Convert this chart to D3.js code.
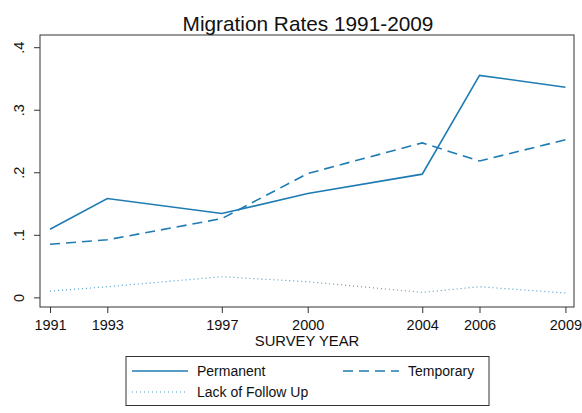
<!DOCTYPE html>
<html><head><meta charset="utf-8">
<script src="https://cdn.jsdelivr.net/npm/d3@7"></script>
<style>body{margin:0;background:#fff}svg{display:block}text{font-family:"Liberation Sans",Arial,sans-serif;fill:#111}</style>
</head><body><svg id="c" width="582" height="413"></svg>
<script>
const years = [1991, 1993, 1997, 2000, 2004, 2006, 2009];
const permanent = [0.109, 0.158, 0.134, 0.166, 0.197, 0.355, 0.336];
const temporary = [0.085, 0.092, 0.126, 0.198, 0.247, 0.218, 0.252];
const lackFollowUp = [0.010, 0.017, 0.033, 0.025, 0.008, 0.017, 0.007];
const yTicks = [0, 0.1, 0.2, 0.3, 0.4];
const yTickLabels = ["0", ".1", ".2", ".3", ".4"];
const seriesNames = ["Permanent", "Temporary", "Lack of Follow Up"];

const svg = d3.select("#c");
const L = 40, R = 574, T = 35, B = 307;
const x = d3.scaleLinear().domain([1990.65, 2009.3]).range([L, R]);
const y = d3.scaleLinear().domain([-0.0154, 0.4195]).range([B, T]);
const col = "#1f7bb3";

svg.append("rect").attr("x", L).attr("y", T).attr("width", R - L).attr("height", B - T)
  .attr("fill", "none").attr("stroke", "#333").attr("stroke-width", 1);

const xa = svg.append("g").attr("transform", `translate(0,${B})`)
  .call(d3.axisBottom(x).tickValues(years).tickFormat(d3.format("d")).tickSize(6).tickSizeOuter(0).tickPadding(7));
xa.select(".domain").remove();
xa.selectAll("line").attr("stroke", "#333");
xa.selectAll("text").style("font-size", "14.5px").attr("fill", "#111");

const ya = svg.append("g").attr("transform", `translate(${L},0)`)
  .call(d3.axisLeft(y).tickValues(yTicks).tickFormat((d, i) => yTickLabels[i]).tickSize(6).tickSizeOuter(0));
ya.select(".domain").remove();
ya.selectAll("line").attr("stroke", "#333");
ya.selectAll(".tick text").style("font-size", "14.5px").attr("fill", "#111")
  .attr("text-anchor", "middle").attr("transform", "rotate(-90)")
  .attr("x", 0).attr("y", -21).attr("dy", "0.35em");

const line = d3.line().x((d, i) => x(years[i])).y(d => y(d));
const styles = [
  {data: permanent, dash: null, w: 1.6, c: col},
  {data: temporary, dash: "10,6", w: 1.6, c: col},
  {data: lackFollowUp, dash: "1,3", w: 1.2, c: "#4a9fc8"}
];
styles.forEach(s => {
  svg.append("path").datum(s.data).attr("d", line).attr("fill", "none")
    .attr("stroke", s.c).attr("stroke-width", s.w).attr("stroke-dasharray", s.dash);
});

svg.append("text").attr("x", 308).attr("y", 31).attr("text-anchor", "middle")
  .style("font-size", "20.8px").text("Migration Rates 1991-2009");
svg.append("text").attr("x", 307).attr("y", 346).attr("text-anchor", "middle")
  .style("font-size", "14.8px").text("SURVEY YEAR");

// legend
svg.append("rect").attr("x", 126).attr("y", 356.5).attr("width", 363).attr("height", 49)
  .attr("fill", "#fff").attr("stroke", "#333").attr("stroke-width", 1);
const legPos = [[132, 371], [343, 371], [132, 392]];
styles.forEach((s, i) => {
  const [lx, ly] = legPos[i];
  svg.append("line").attr("x1", lx).attr("x2", lx + 56).attr("y1", ly).attr("y2", ly)
    .attr("stroke", s.c).attr("stroke-width", s.w).attr("stroke-dasharray", s.dash);
  svg.append("text").attr("x", lx + 65).attr("y", ly).attr("dy", "0.35em")
    .style("font-size", "14px").text(seriesNames[i]);
});
</script></body></html>
